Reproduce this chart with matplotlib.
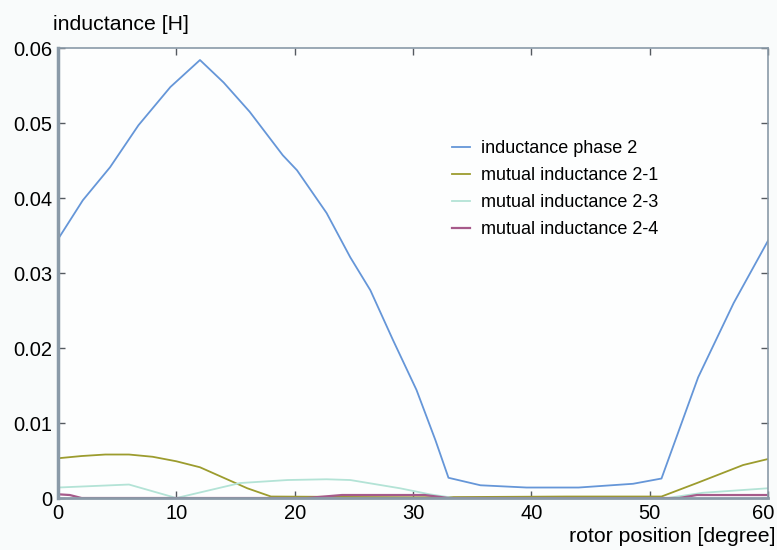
import numpy as np
import matplotlib.pyplot as plt
import matplotlib.transforms as mtransforms

plt.rcParams['font.family'] = ['Liberation Sans', 'DejaVu Sans']

# rotor position [degree] and inductances [H]
x_l2 = [0, 2.1, 4.4, 6.8, 9.5, 12, 14, 16.2, 19, 20.2, 22.7, 24.7, 26.4, 28.3,
        30.3, 31.9, 33, 35.7, 39.6, 44, 48.6, 51, 54.1, 57.1, 60]
l2 = [0.0345, 0.0397, 0.0441, 0.0497, 0.0548, 0.0584, 0.0554, 0.0515, 0.0457,
      0.0437, 0.0380, 0.0321, 0.0277, 0.0211, 0.0144, 0.0077, 0.0027, 0.0017,
      0.0014, 0.0014, 0.0019, 0.0026, 0.0161, 0.0260, 0.0343]

x_m21 = [0, 2, 4, 6, 8, 10, 12, 14, 16, 18, 30, 43, 51, 54, 57.9, 60]
m21 = [0.0053, 0.0056, 0.0058, 0.0058, 0.0055, 0.0049, 0.0041, 0.0027, 0.0013,
       0.0002, 0.0001, 0.0002, 0.0002, 0.0020, 0.0044, 0.0052]

x_m23 = [0, 6, 10, 15.4, 19.4, 22.7, 24.7, 28.9, 31.4, 33.5, 51.5, 54.5, 60]
m23 = [0.0014, 0.0018, 0.0, 0.0020, 0.0024, 0.0025, 0.0024, 0.0013, 0.0005,
       0.0, 0.0, 0.0007, 0.0013]

x_m24 = [0, 1, 2, 21, 24, 31, 33, 52.5, 54, 60]
m24 = [0.0005, 0.0004, 0.0, 0.0, 0.0004, 0.0004, 0.0, 0.0, 0.0004, 0.0004]

labels = ['inductance phase 2', 'mutual inductance 2-1',
          'mutual inductance 2-3', 'mutual inductance 2-4']
colors = ['#6596d8', '#9c9c2e', '#b3e3d6', '#a65a8a']

fig = plt.figure(figsize=(7.77, 5.5), dpi=100, facecolor='#f9fbfb')
ax = fig.add_axes([0.0746, 0.0945, 0.9138, 0.8182])
ax.set_facecolor('#fdfefe')

ax.plot(x_l2, l2, color=colors[0], lw=1.3, label=labels[0])
ax.plot(x_m21, m21, color=colors[1], lw=1.3, label=labels[1])
ax.plot(x_m23, m23, color=colors[2], lw=1.3, label=labels[2])
ax.plot(x_m24, m24, color=colors[3], lw=1.6, label=labels[3])

ax.set_xlim(0, 60)
ax.set_ylim(0, 0.06)
ax.set_xticks([0, 10, 20, 30, 40, 50, 60])
ax.set_yticks([0, 0.01, 0.02, 0.03, 0.04, 0.05, 0.06])
ax.set_yticklabels(['0', '0.01', '0.02', '0.03', '0.04', '0.05', '0.06'])
ax.tick_params(direction='in', length=5, width=1, colors='#555a60',
               labelcolor='black', labelsize=14.5, top=True, right=True, pad=4)

# keep the last x label inside the figure
last = ax.get_xticklabels()[-1]
last.set_transform(last.get_transform() +
                   mtransforms.ScaledTranslation(-5 / 100, 0, fig.dpi_scale_trans))

for s in ax.spines.values():
    s.set_color('#8a9aa8')
    s.set_linewidth(1.2)
ax.spines['left'].set_linewidth(2.5)
ax.spines['bottom'].set_linewidth(2.0)

fig.text(53 / 777, 1 - 25 / 550, 'inductance [H]', fontsize=15.3,
         va='center', ha='left')
fig.text(0.998, 1 - 537 / 550, 'rotor position [degree]', fontsize=15.3,
         va='center', ha='right')

leg = ax.legend(loc='upper left', bbox_to_anchor=(443 / 777, 1 - 131 / 550),
                bbox_transform=fig.transFigure, frameon=False, borderpad=0,
                fontsize=13, handlelength=1.0, handletextpad=0.6,
                labelspacing=0.55)

plt.savefig('out.png', dpi=100, facecolor=fig.get_facecolor())
